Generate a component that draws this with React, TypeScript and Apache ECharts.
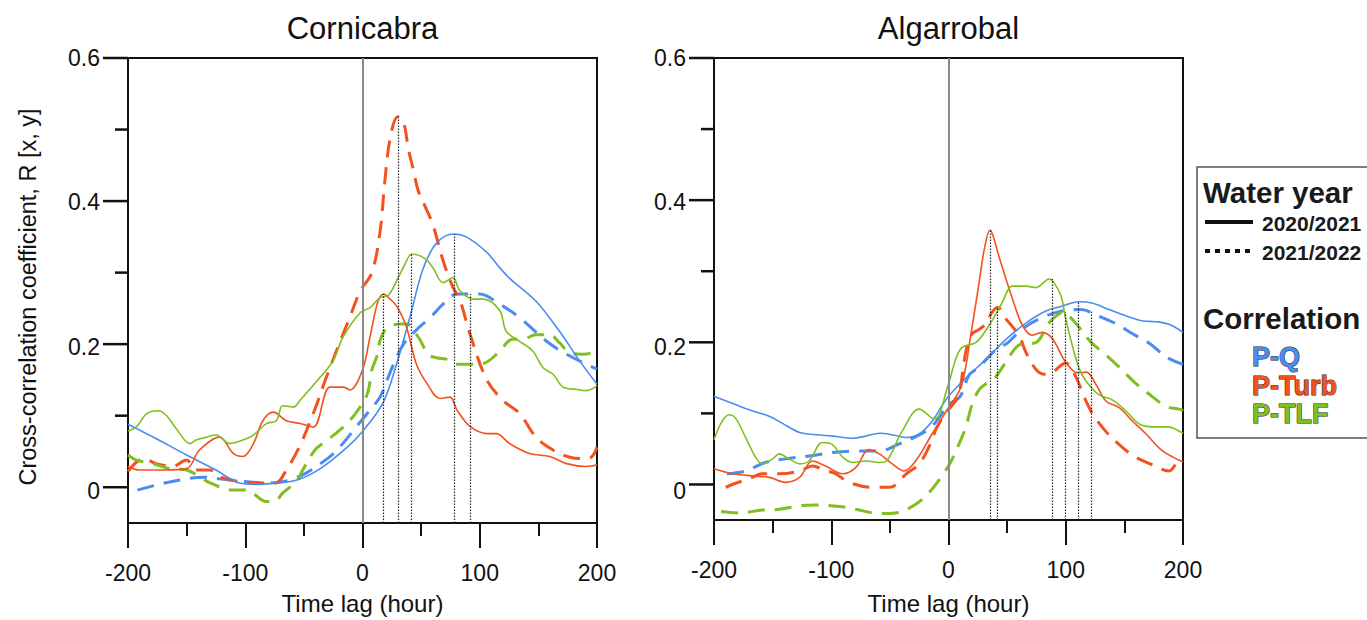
import React, { useEffect, useRef } from "react";
import * as echarts from "echarts";

// ---------- DATA (lag in hours, cross-correlation R) ----------
const lagTicks = [-200, -100, 0, 100, 200];
const rTickMin = 0;
const rTickMax = 0.6;
const rTickStep = 0.2;
const rMajorTicks = [0, 0.2, 0.4, 0.6];
const rMinorTicks = [0.1, 0.3, 0.5];

const panelTitles = ["Cornicabra", "Algarrobal"];
const waterYears = ["2020/2021", "2021/2022"];
const correlations = ["P-Q", "P-Turb", "P-TLF"];

// Cornicabra
const cornicabraQ2021: [number, number][] = [
  [-200, 0.088], [-175, 0.067], [-150, 0.045], [-125, 0.024], [-105, 0.006], [-90, 0.004], [-79, 0.005],
  [-56, 0.01], [-36, 0.026], [-13, 0.056], [0, 0.078], [17.5, 0.118], [29, 0.172], [40.5, 0.238],
  [51.6, 0.305], [63.5, 0.342], [78, 0.354], [88.5, 0.35], [105.6, 0.329], [117, 0.307], [125.5, 0.292],
  [148, 0.26], [168, 0.218], [185, 0.177], [200, 0.144],
];
const cornicabraQ2122: [number, number][] = [
  [-192, -0.004], [-176, 0.003], [-156, 0.01], [-136, 0.014], [-113, 0.01], [-79, 0.006], [-54, 0.015],
  [-30, 0.04], [-19, 0.057], [-5, 0.085], [4, 0.103], [15, 0.126], [21, 0.15], [26.5, 0.172], [35, 0.2],
  [46, 0.22], [57.6, 0.237], [68.7, 0.256], [80.6, 0.27], [91.5, 0.27], [100, 0.27], [117, 0.256],
  [134, 0.237], [157, 0.204], [174, 0.186], [200, 0.165],
];
const cornicabraTurb2021: [number, number][] = [
  [-200, 0.029], [-190, 0.024], [-170, 0.024], [-150, 0.026], [-139, 0.052], [-122, 0.07], [-110, 0.047],
  [-102, 0.043], [-93, 0.061], [-85, 0.093], [-76, 0.105], [-65, 0.093], [-53, 0.089], [-42, 0.084],
  [-27.7, 0.14], [-16, 0.14], [-10.7, 0.136], [0, 0.164], [6.4, 0.21], [13.2, 0.26], [18, 0.27],
  [23, 0.264], [30, 0.251], [37.5, 0.224], [46, 0.172], [55, 0.145], [66, 0.124], [74.6, 0.126],
  [80.6, 0.108], [91.7, 0.085], [106, 0.075], [114, 0.075], [125.5, 0.061], [142.6, 0.047],
  [159.6, 0.043], [174, 0.033], [191, 0.029], [200, 0.031],
];
const cornicabraTurb2122: [number, number][] = [
  [-200, 0.022], [-187, 0.04], [-176, 0.033], [-162, 0.029], [-150, 0.038], [-142, 0.024], [-130, 0.024],
  [-122, 0.015], [-105, 0.008], [-88, 0.006], [-74, 0.006], [-65, 0.024], [-54, 0.056], [-42, 0.103],
  [-31, 0.153], [-20, 0.2], [-10.7, 0.238], [-2, 0.274], [8, 0.3], [15, 0.358], [19, 0.427], [23.5, 0.487],
  [30, 0.518], [35, 0.51], [39, 0.474], [43, 0.446], [47.6, 0.414], [53, 0.394], [60, 0.367], [68.7, 0.317],
  [77, 0.28], [83, 0.262], [91.7, 0.214], [106, 0.15], [120, 0.121], [134, 0.103], [148, 0.07],
  [162.5, 0.052], [176.7, 0.042], [188, 0.04], [195, 0.042], [200, 0.056],
];
const cornicabraTLF2021: [number, number][] = [
  [-200, 0.079], [-193, 0.084], [-184, 0.103], [-174, 0.107], [-167, 0.1], [-159, 0.082], [-147, 0.061],
  [-142, 0.066], [-133, 0.07], [-125, 0.073], [-113, 0.061], [-102, 0.066], [-93, 0.073], [-82, 0.089],
  [-73.5, 0.093], [-68, 0.114], [-59, 0.112], [-53, 0.122], [-36, 0.154], [-25, 0.177], [-16.6, 0.21],
  [-2, 0.244], [6.4, 0.251], [15, 0.265], [22, 0.268], [30.4, 0.293], [36, 0.311], [42, 0.326],
  [53, 0.32], [60, 0.307], [68.7, 0.286], [77, 0.293], [83, 0.275], [94.5, 0.263], [103, 0.263],
  [117, 0.247], [122.6, 0.218], [134, 0.204], [145.4, 0.19], [154, 0.167], [162.5, 0.158], [171, 0.14],
  [182, 0.137], [191, 0.135], [200, 0.142],
];
const cornicabraTLF2122: [number, number][] = [
  [-200, 0.045], [-193, 0.038], [-179, 0.033], [-164.5, 0.026], [-150, 0.024], [-139, 0.015], [-130, 0.006],
  [-110.5, -0.004], [-99, -0.004], [-82, -0.02], [-73.5, -0.018], [-68, -0.008], [-56.4, 0.008],
  [-51, 0.024], [-40, 0.053], [-29, 0.067], [-16, 0.085], [-6, 0.103], [4, 0.13], [8, 0.164], [12, 0.182],
  [15, 0.205], [20, 0.222], [25, 0.226], [31.6, 0.228], [38, 0.228], [47.6, 0.21], [56, 0.186],
  [63, 0.181], [71.5, 0.179], [80, 0.172], [88.5, 0.172], [97, 0.172], [106, 0.175], [117, 0.19],
  [128, 0.207], [136.5, 0.207], [148, 0.213], [159.6, 0.213], [168, 0.202], [176.7, 0.188], [188, 0.186],
  [200, 0.188],
];
const cornicabraPeakLags = [18, 30.5, 42, 78, 91.5];
const cornicabraPeakValues = [0.27, 0.518, 0.326, 0.354, 0.27];

// Algarrobal
const algarrobalQ2021: [number, number][] = [
  [-200, 0.124], [-184, 0.114], [-170, 0.105], [-153, 0.096], [-141.6, 0.086], [-127, 0.073], [-113, 0.07],
  [-99, 0.068], [-82, 0.065], [-70.5, 0.068], [-59, 0.072], [-45, 0.069], [-36, 0.066], [-25, 0.071],
  [-14, 0.089], [-1, 0.122], [15, 0.15], [32, 0.176], [49, 0.204], [66, 0.227], [83, 0.244], [95, 0.25],
  [111.5, 0.257], [123, 0.255], [137, 0.246], [151.6, 0.237], [166, 0.23], [177, 0.229], [188.6, 0.225],
  [200, 0.214],
];
const algarrobalQ2122: [number, number][] = [
  [-189, 0.015], [-173, 0.019], [-156, 0.031], [-139, 0.036], [-119, 0.04], [-99, 0.045], [-79, 0.047],
  [-59, 0.047], [-42, 0.057], [-27, 0.068], [-14, 0.082], [0, 0.112], [10, 0.124], [17.6, 0.154],
  [26, 0.165], [40, 0.189], [51, 0.2], [63, 0.219], [80, 0.235], [97, 0.244], [113, 0.246], [128, 0.237],
  [143, 0.226], [157, 0.212], [171, 0.199], [186, 0.179], [200, 0.169],
];
const algarrobalTurb2021: [number, number][] = [
  [-200, 0.022], [-184, 0.015], [-167, 0.012], [-153, 0.01], [-139, 0.003], [-127, 0.01], [-116, 0.033],
  [-105, 0.026], [-90, 0.015], [-79, 0.024], [-68, 0.049], [-59, 0.043], [-48, 0.029], [-38, 0.019],
  [-28, 0.033], [-14, 0.071], [-2, 0.103], [9, 0.131], [13.4, 0.154], [19, 0.21], [26, 0.283], [31, 0.335],
  [35.4, 0.358], [38, 0.35], [43, 0.321], [54.6, 0.261], [63, 0.224], [71.6, 0.21], [80, 0.214],
  [88.6, 0.205], [100, 0.172], [110, 0.157], [117.5, 0.158], [126, 0.14], [134.5, 0.117], [145.6, 0.108],
  [157, 0.089], [168.5, 0.071], [182, 0.048], [196.7, 0.034], [200, 0.032],
];
const algarrobalTurb2122: [number, number][] = [
  [-190, -0.004], [-183, 0.001], [-170, 0.008], [-159, 0.015], [-144, 0.015], [-127, 0.019], [-116, 0.026],
  [-106, 0.02], [-96, 0.015], [-85, 0.003], [-65, -0.004], [-50, -0.004], [-36, 0.015], [-25, 0.029],
  [-16, 0.055], [-10, 0.08], [-1, 0.103], [7, 0.12], [10, 0.135], [13, 0.17], [16, 0.195], [20, 0.212],
  [26, 0.218], [32, 0.226], [37, 0.242], [42, 0.249], [49, 0.233], [60, 0.21], [66, 0.186], [75, 0.161],
  [82, 0.155], [88, 0.157], [100, 0.171], [109, 0.15], [116, 0.122], [123, 0.099], [134, 0.075],
  [143, 0.06], [158, 0.04], [172, 0.029], [188, 0.019], [196, 0.033], [200, 0.035],
];
const algarrobalTLF2021: [number, number][] = [
  [-200, 0.063], [-193, 0.089], [-187, 0.098], [-181.5, 0.093], [-173, 0.066], [-164.4, 0.038],
  [-158.7, 0.029], [-150, 0.036], [-144.5, 0.043], [-136, 0.036], [-127, 0.029], [-119, 0.033],
  [-107.5, 0.059], [-99, 0.056], [-90, 0.038], [-82, 0.031], [-70.5, 0.033], [-59, 0.031], [-53, 0.033],
  [-39.5, 0.075], [-25, 0.106], [-12, 0.092], [-1, 0.136], [6.5, 0.178], [11.7, 0.193], [23.5, 0.2],
  [34.7, 0.224], [45.8, 0.256], [54.5, 0.279], [66, 0.279], [74.6, 0.277], [86, 0.289], [90, 0.284],
  [96, 0.265], [100, 0.233], [105.5, 0.196], [111.5, 0.163], [117.5, 0.145], [128.5, 0.126],
  [139.7, 0.119], [151.6, 0.103], [162.7, 0.085], [174, 0.081], [188, 0.081], [196.8, 0.075], [200, 0.072],
];
const algarrobalTLF2122: [number, number][] = [
  [-194, -0.038], [-178.6, -0.04], [-158.7, -0.036], [-144.5, -0.035], [-127, -0.03], [-113, -0.029],
  [-93, -0.031], [-79, -0.035], [-59, -0.041], [-45, -0.04], [-29, -0.029], [-17, -0.012], [-6, 0.011],
  [2, 0.032], [9, 0.057], [15, 0.082], [20, 0.112], [26, 0.133], [33, 0.143], [40, 0.151], [50, 0.175],
  [60, 0.196], [75, 0.2], [86, 0.228], [98.5, 0.242], [104, 0.235], [110, 0.224], [121.6, 0.2],
  [134.5, 0.182], [145.6, 0.165], [158.5, 0.144], [169.7, 0.129], [185.6, 0.11], [196.8, 0.106],
  [200, 0.104],
];
const algarrobalPeakLags = [35.4, 42, 88.4, 99.5, 110.6, 121.7];
const algarrobalPeakValues = [0.358, 0.249, 0.289, 0.242, 0.257, 0.243];

// ---------- STYLE ----------
const FONT = "'Liberation Sans', Arial, Helvetica, sans-serif";
const INK = "#111";
const colorQ = "#4a8cf0";
const colorTurb = "#f4511e";
const colorTLF = "#7fbf1f";
const R_MIN = -0.05;
const R_MAX = 0.6;

const panels = [
  {
    title: panelTitles[0],
    left: 128,
    nameGap: 68,
    series: [
      [cornicabraQ2021, cornicabraQ2122],
      [cornicabraTurb2021, cornicabraTurb2122],
      [cornicabraTLF2021, cornicabraTLF2122],
    ],
    peakLags: cornicabraPeakLags,
    peakValues: cornicabraPeakValues,
  },
  {
    title: panelTitles[1],
    left: 714,
    nameGap: 71,
    series: [
      [algarrobalQ2021, algarrobalQ2122],
      [algarrobalTurb2021, algarrobalTurb2122],
      [algarrobalTLF2021, algarrobalTLF2122],
    ],
    peakLags: algarrobalPeakLags,
    peakValues: algarrobalPeakValues,
  },
];
const GRID_TOP = 58;
const GRID_W = 469;
const GRID_H = 469;
const MAJOR_TICK = 25;
const MINOR_TICK = 13;
const corrColors = [colorQ, colorTurb, colorTLF];

function buildOption() {
  const grid: any[] = [];
  const xAxis: any[] = [];
  const yAxis: any[] = [];
  const series: any[] = [];
  const graphic: any[] = [];

  panels.forEach((p, gi) => {
    grid.push({
      left: p.left,
      top: GRID_TOP,
      width: GRID_W,
      height: GRID_H,
      show: true,
      borderColor: INK,
      borderWidth: 2,
      backgroundColor: "transparent",
    });
    xAxis.push({
      gridIndex: gi,
      type: "value",
      min: lagTicks[0],
      max: lagTicks[lagTicks.length - 1],
      interval: 100,
      axisLine: { show: true, onZero: false, lineStyle: { color: INK, width: 2 } },
      axisTick: { show: true, inside: false, length: MAJOR_TICK, lineStyle: { color: INK, width: 2 } },
      minorTick: { show: true, splitNumber: 2, length: MINOR_TICK, lineStyle: { color: INK, width: 2 } },
      splitLine: { show: false },
      minorSplitLine: { show: false },
      axisLabel: { fontSize: 23, fontFamily: FONT, color: INK, margin: 38 },
      name: "Time lag (hour)",
      nameLocation: "middle",
      nameGap: p.nameGap,
      nameTextStyle: { fontSize: 24, fontFamily: FONT, color: INK },
    });
    yAxis.push({
      gridIndex: gi,
      type: "value",
      min: R_MIN,
      max: R_MAX,
      position: "left",
      axisLine: { show: true, onZero: false, lineStyle: { color: INK, width: 2 } },
      axisTick: { show: false },
      axisLabel: { show: false },
      splitLine: { show: false },
    });
  });

  // label grids: cover exactly the R range 0 .. 0.6 of each data grid
  const pxPerR = GRID_H / (R_MAX - R_MIN);
  const tickTop = GRID_TOP + (R_MAX - rTickMax) * pxPerR;
  const tickH = (rTickMax - rTickMin) * pxPerR;
  panels.forEach((p) => {
    const tgi = grid.length;
    grid.push({ left: p.left, top: tickTop, width: GRID_W, height: tickH, show: false });
    xAxis.push({ gridIndex: tgi, type: "value", min: lagTicks[0], max: lagTicks[lagTicks.length - 1], show: false });
    yAxis.push({
      gridIndex: tgi,
      type: "value",
      min: rTickMin,
      max: rTickMax,
      interval: rTickStep,
      position: "left",
      axisLine: { show: false, onZero: false },
      axisTick: { show: false },
      minorTick: { show: false },
      splitLine: { show: false },
      minorSplitLine: { show: false },
      axisLabel: {
        fontSize: 23,
        fontFamily: FONT,
        color: INK,
        margin: 28,
        formatter: (v: number) => (Math.abs(v) < 1e-9 ? "0" : v.toFixed(1)),
      },
    });
  });

  panels.forEach((p, gi) => {
    series.push({
      type: "line",
      name: "zero-" + gi,
      xAxisIndex: gi,
      yAxisIndex: gi,
      data: [],
      z: 1,
      silent: true,
      markLine: {
        silent: true,
        symbol: ["none", "none"],
        label: { show: false },
        lineStyle: { color: "#8a8a8a", width: 2, type: "solid" },
        data: [{ xAxis: 0 }],
      },
    });
    p.series.forEach((pair, ci) => {
      pair.forEach((data, yi) => {
        series.push({
          type: "line",
          name: correlations[ci] + " " + waterYears[yi] + " " + p.title,
          xAxisIndex: gi,
          yAxisIndex: gi,
          data,
          smooth: 0.35,
          showSymbol: false,
          symbol: "none",
          z: yi === 0 ? 3 : 2,
          lineStyle:
            yi === 0
              ? { color: corrColors[ci], width: 1.6, type: "solid" }
              : { color: corrColors[ci], width: 3, type: [17, 10] },
        });
      });
    });
    series.push({
      type: "line",
      name: "peaks-" + gi,
      xAxisIndex: gi,
      yAxisIndex: gi,
      data: [],
      z: 4,
      silent: true,
      markLine: {
        silent: true,
        symbol: ["none", "none"],
        label: { show: false },
        lineStyle: { color: "#222", width: 1.2, type: [1.5, 1.5] },
        data: p.peakLags.map((lag, i) => [{ coord: [lag, R_MIN] }, { coord: [lag, p.peakValues[i]] }]),
      },
    });

    graphic.push({
      type: "text",
      x: p.left + GRID_W / 2,
      y: 28,
      style: { text: p.title, fontSize: 31, fontFamily: FONT, fill: INK, align: "center", verticalAlign: "middle" },
    });
  });

  graphic.push({
    type: "text",
    x: 28,
    y: 297,
    rotation: Math.PI / 2,
    style: {
      text: "Cross-correlation coefficient, R [x, y]",
      fontSize: 23.5,
      fontFamily: FONT,
      fill: INK,
      align: "center",
      verticalAlign: "middle",
    },
  });

  const lx = 1197;
  graphic.push({
    type: "rect",
    shape: { x: lx, y: 167, width: 200, height: 271 },
    style: { fill: "#fff", stroke: "#555", lineWidth: 1.5 },
    z: 10,
  });
  const bold = (text: string, x: number, y: number, size: number, extra: any = {}) => ({
    type: "text",
    x,
    y,
    z: 11,
    style: { text, fontSize: size, fontWeight: "bold", fontFamily: FONT, fill: "#1a1a1a", align: "left", verticalAlign: "middle", ...extra },
  });
  graphic.push(bold("Water year", 1203, 192, 29.5));
  graphic.push({ type: "line", z: 11, shape: { x1: 1205, y1: 222, x2: 1253, y2: 222 }, style: { stroke: INK, lineWidth: 4 } });
  graphic.push(bold(waterYears[0], 1262, 223, 21));
  graphic.push({ type: "line", z: 11, shape: { x1: 1205, y1: 251, x2: 1255, y2: 251 }, style: { stroke: INK, lineWidth: 4, lineDash: [5, 5] } });
  graphic.push(bold(waterYears[1], 1262, 252, 21));
  graphic.push(bold("Correlation", 1203, 318, 29.5));
  correlations.forEach((c, i) => {
    graphic.push(bold(c, 1252, 357 + i * 28.5, 27, { fill: corrColors[i], stroke: "#222", lineWidth: 1 }));
  });

  return {
    animation: false,
    backgroundColor: "#fff",
    grid,
    xAxis,
    yAxis,
    series,
    graphic,
  };
}

export default function App() {
  const ref = useRef<HTMLDivElement>(null);
  useEffect(() => {
    if (!ref.current) return;
    const chart = echarts.init(ref.current, undefined, { renderer: "svg" });
    const option = buildOption();
    chart.setOption(option as any);
    // R ticks (long and short) as small filled bars, placed through each panel's own y scale
    const tickMarks: any[] = [];
    panels.forEach((p, gi) => {
      const x0 = chart.convertToPixel({ xAxisIndex: gi }, lagTicks[0]) as number;
      const addTick = (v: number, len: number) => {
        const y = chart.convertToPixel({ yAxisIndex: gi }, v) as number;
        tickMarks.push({
          type: "rect",
          z: 30,
          silent: true,
          shape: { x: x0 - len, y: y - 1.25, width: len, height: 2.5 },
          style: { fill: INK, stroke: null },
        });
      };
      rMajorTicks.forEach((v) => addTick(v, MAJOR_TICK));
      rMinorTicks.forEach((v) => addTick(v, MINOR_TICK));
    });
    chart.setOption({ graphic: [...option.graphic, ...tickMarks] } as any);
    return () => chart.dispose();
  }, []);
  return (
    <div
      ref={ref}
      style={{ position: "absolute", left: 0, top: 0, width: 1367, height: 620 }}
    />
  );
}
